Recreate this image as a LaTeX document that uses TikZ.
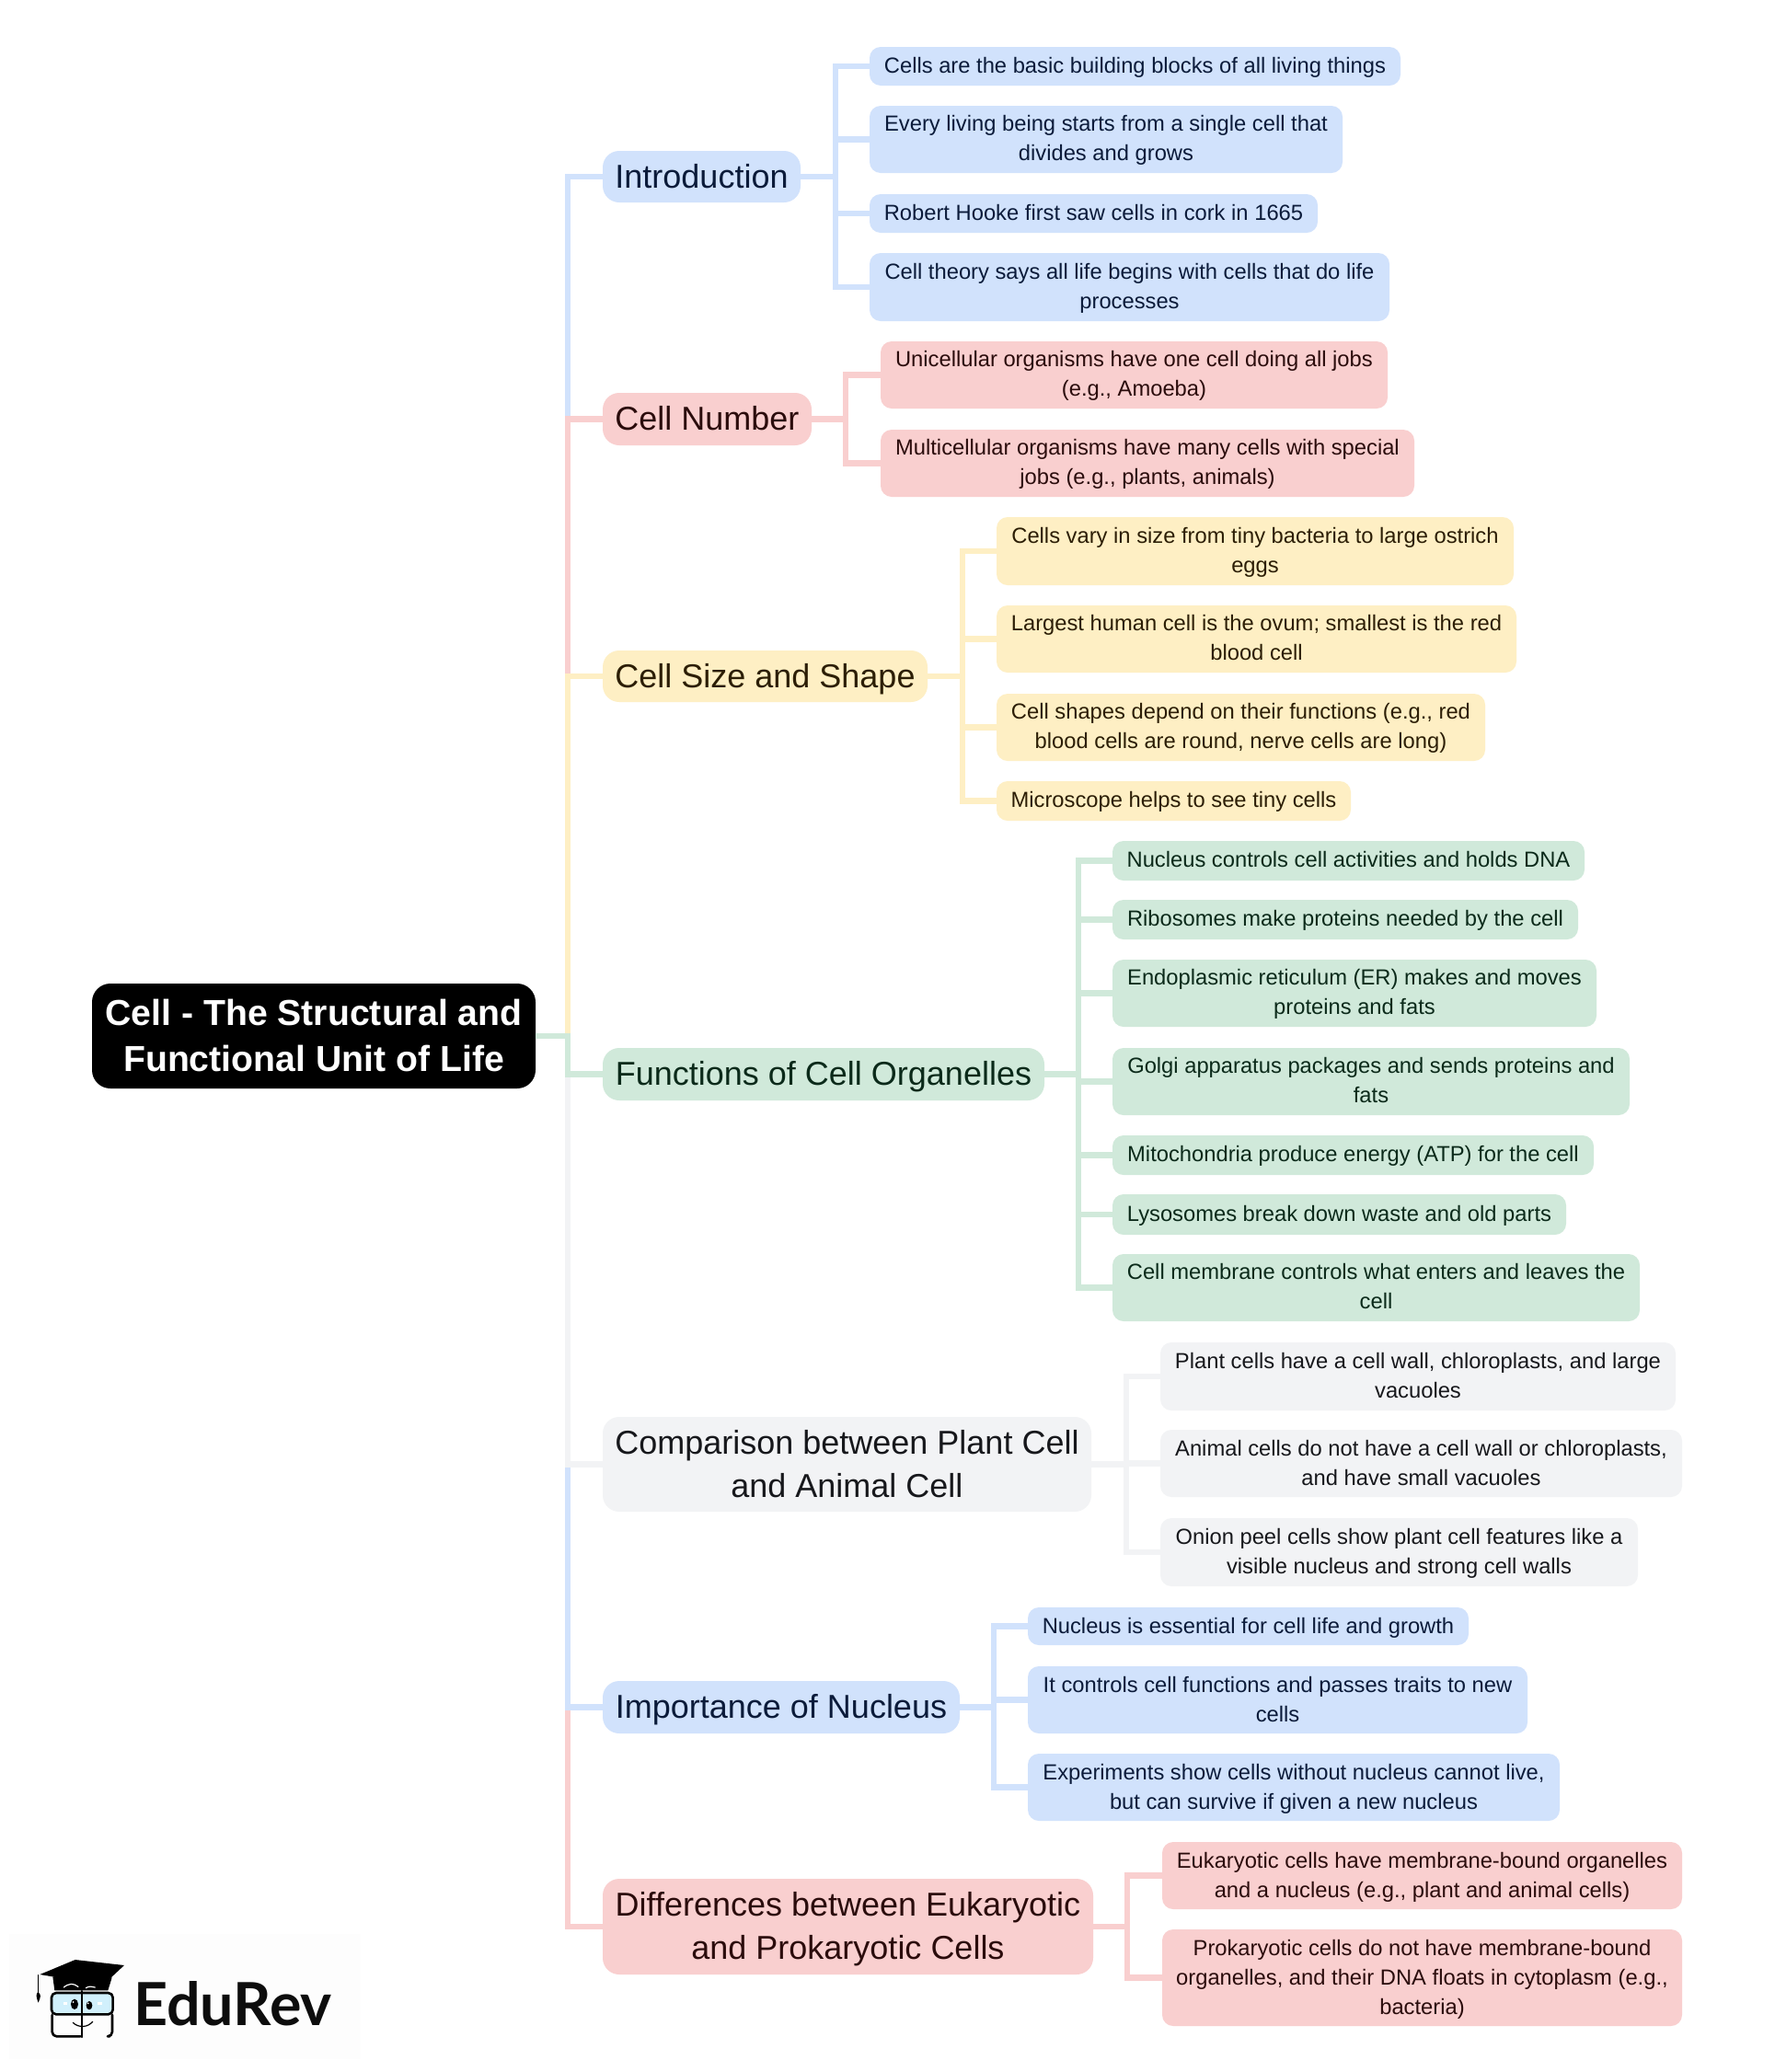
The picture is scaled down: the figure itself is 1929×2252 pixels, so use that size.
\documentclass[tikz,border=0pt]{standalone}
\usepackage{fontspec}
\setmainfont{Liberation Sans}
\newfontfamily\logofont{Lato}
\definecolor{cblue}{HTML}{D1E2FC}
\definecolor{cred}{HTML}{F9CFCF}
\definecolor{cyel}{HTML}{FEEFC4}
\definecolor{cgrn}{HTML}{D0E9DA}
\definecolor{cgry}{HTML}{F2F3F5}
\definecolor{tblue}{HTML}{0B1B3A}
\definecolor{tred}{HTML}{2B0C0C}
\definecolor{tyel}{HTML}{2C1E05}
\definecolor{tgrn}{HTML}{0B2A1A}
\definecolor{tgry}{HTML}{17181C}
\definecolor{logobg}{HTML}{FDFDFD}
\newlength{\txtdrop}
\tikzset{
 boxbase/.style={draw=none,inner sep=0pt,align=center},
 leafbox/.style={boxbase,rounded corners=12pt,font=\fontsize{23.75}{32}\selectfont\setlength{\txtdrop}{7.3pt}},
 branchbox/.style={boxbase,rounded corners=18pt,font=\fontsize{36}{47}\selectfont\setlength{\txtdrop}{8.9pt}},
 rootbox/.style={boxbase,fill=black,text=white,rounded corners=20pt,font=\bfseries\fontsize{39.2}{50}\selectfont\setlength{\txtdrop}{10pt}},
 pblue/.style={fill=cblue,text=tblue},
 pred/.style={fill=cred,text=tred},
 pyel/.style={fill=cyel,text=tyel},
 pgrn/.style={fill=cgrn,text=tgrn},
 pgry/.style={fill=cgry,text=tgry},
 link/.style={line width=6.5pt,draw=#1},
}
\newcommand{\bx}[7]{\node[#2,minimum width={#5-#3},minimum height={#6-#4}] (#1) at ({(#3+#5)/2},{(#4+#6)/2}) {\raisebox{-\txtdrop}[0pt][0pt]{\begin{tabular}{@{}c@{}}#7\end{tabular}}};}
\begin{document}
\begin{tikzpicture}[x=1pt,y=-1pt]
\useasboundingbox (0,0) rectangle (1929,2252);
\fill[white] (0,0) rectangle (1929,2252);
\bx{root}{rootbox}{100}{1069}{582}{1183}{Cell - The Structural and\\Functional Unit of Life}
\bx{b1}{branchbox,pblue}{655}{164}{870}{220}{Introduction}
\bx{b2}{branchbox,pred}{655}{427}{882}{484}{Cell Number}
\bx{b3}{branchbox,pyel}{655}{707}{1008}{763}{Cell Size and Shape}
\bx{b4}{branchbox,pgrn}{655}{1139}{1135}{1196}{Functions of Cell Organelles}
\bx{b5}{branchbox,pgry}{655}{1540}{1186}{1643}{Comparison between Plant Cell\\and Animal Cell}
\bx{b6}{branchbox,pblue}{655}{1827}{1043}{1884}{Importance of Nucleus}
\bx{b7}{branchbox,pred}{655}{2042}{1188}{2146}{Differences between Eukaryotic\\and Prokaryotic Cells}
\bx{l1}{leafbox,pblue}{945}{51}{1522}{93}{Cells are the basic building blocks of all living things}
\bx{l2}{leafbox,pblue}{945}{115}{1459}{188}{Every living being starts from a single cell that\\divides and grows}
\bx{l3}{leafbox,pblue}{945}{211}{1432}{253}{Robert Hooke first saw cells in cork in 1665}
\bx{l4}{leafbox,pblue}{945}{275}{1510}{349}{Cell theory says all life begins with cells that do life\\processes}
\bx{l5}{leafbox,pred}{957}{371}{1508}{444}{Unicellular organisms have one cell doing all jobs\\(e.g., Amoeba)}
\bx{l6}{leafbox,pred}{957}{467}{1537}{540}{Multicellular organisms have many cells with special\\jobs (e.g., plants, animals)}
\bx{l7}{leafbox,pyel}{1083}{562}{1645}{636}{Cells vary in size from tiny bacteria to large ostrich\\eggs}
\bx{l8}{leafbox,pyel}{1083}{658}{1648}{731}{Largest human cell is the ovum; smallest is the red\\blood cell}
\bx{l9}{leafbox,pyel}{1083}{754}{1614}{827}{Cell shapes depend on their functions (e.g., red\\blood cells are round, nerve cells are long)}
\bx{l10}{leafbox,pyel}{1083}{849}{1468}{892}{Microscope helps to see tiny cells}
\bx{l11}{leafbox,pgrn}{1209}{914}{1722}{957}{Nucleus controls cell activities and holds DNA}
\bx{l12}{leafbox,pgrn}{1209}{978}{1715}{1021}{Ribosomes make proteins needed by the cell}
\bx{l13}{leafbox,pgrn}{1209}{1043}{1735}{1116}{Endoplasmic reticulum (ER) makes and moves\\proteins and fats}
\bx{l14}{leafbox,pgrn}{1209}{1139}{1771}{1212}{Golgi apparatus packages and sends proteins and\\fats}
\bx{l15}{leafbox,pgrn}{1209}{1234}{1732}{1277}{Mitochondria produce energy (ATP) for the cell}
\bx{l16}{leafbox,pgrn}{1209}{1298}{1702}{1342}{Lysosomes break down waste and old parts}
\bx{l17}{leafbox,pgrn}{1209}{1363}{1782}{1436}{Cell membrane controls what enters and leaves the\\cell}
\bx{l18}{leafbox,pgry}{1261}{1459}{1821}{1533}{Plant cells have a cell wall, chloroplasts, and large\\vacuoles}
\bx{l19}{leafbox,pgry}{1261}{1554}{1828}{1627}{Animal cells do not have a cell wall or chloroplasts,\\and have small vacuoles}
\bx{l20}{leafbox,pgry}{1261}{1650}{1780}{1724}{Onion peel cells show plant cell features like a\\visible nucleus and strong cell walls}
\bx{l21}{leafbox,pblue}{1117}{1747}{1596}{1788}{Nucleus is essential for cell life and growth}
\bx{l22}{leafbox,pblue}{1117}{1811}{1660}{1884}{It controls cell functions and passes traits to new\\cells}
\bx{l23}{leafbox,pblue}{1117}{1906}{1695}{1979}{Experiments show cells without nucleus cannot live,\\but can survive if given a new nucleus}
\bx{l24}{leafbox,pred}{1263}{2002}{1828}{2075}{Eukaryotic cells have membrane-bound organelles\\and a nucleus (e.g., plant and animal cells)}
\bx{l25}{leafbox,pred}{1263}{2097}{1828}{2202}{Prokaryotic cells do not have membrane-bound\\organelles, and their DNA floats in cytoplasm (e.g.,\\bacteria)}
% trunk
\coordinate (t0) at (617,1126);
\foreach \b/\c in {b1/cblue,b2/cred,b3/cyel,b7/cred,b6/cblue,b5/cgry,b4/cgrn}{
  \draw[link=\c] (root.east) -- (t0) |- (\b.west);
}
% sub-branches
\coordinate (t1) at (908,192);
\foreach \l in {l1,l2,l3,l4}{\draw[link=cblue] (b1.east) -- (t1) |- (\l.west);}
\coordinate (t2) at (919,455.5);
\foreach \l in {l5,l6}{\draw[link=cred] (b2.east) -- (t2) |- (\l.west);}
\coordinate (t3) at (1046,735);
\foreach \l in {l7,l8,l9,l10}{\draw[link=cyel] (b3.east) -- (t3) |- (\l.west);}
\coordinate (t4) at (1172,1167.5);
\foreach \l in {l11,l12,l13,l14,l15,l16,l17}{\draw[link=cgrn] (b4.east) -- (t4) |- (\l.west);}
\coordinate (t5) at (1224,1591.5);
\foreach \l in {l18,l19,l20}{\draw[link=cgry] (b5.east) -- (t5) |- (\l.west);}
\coordinate (t6) at (1080,1855.5);
\foreach \l in {l21,l22,l23}{\draw[link=cblue] (b6.east) -- (t6) |- (\l.west);}
\coordinate (t7) at (1225,2094);
\foreach \l in {l24,l25}{\draw[link=cred] (b7.east) -- (t7) |- (\l.west);}
% logo
\fill[logobg] (10,2102) rectangle (392,2238);
\begin{scope}[shift={(0,2080)},x=0.3333pt,y=-0.3333pt,line cap=round,line join=round]
 \fill[black] (172,205) -- (178,250) -- (352,250) -- (365,208) -- cycle;
 \draw[white,line width=1.2pt] (208,240) .. controls (225,226) and (240,226) .. (255,238);
 \draw[white,line width=1.2pt] (280,242) .. controls (290,236) and (300,236) .. (310,240);
 \fill[black] (130,198) -- (245,150) -- (405,168) -- (330,238) -- (172,205) -- cycle;
 \draw[black,line width=1pt] (124,200) -- (124,258);
 \fill[black] (124,255) .. controls (116,262) and (118,272) .. (125,290) .. controls (132,272) and (136,264) .. (124,255) -- cycle;
 \draw[black,line width=2.6pt,fill=cyan!18!white,rounded corners=5pt] (168,258) rectangle (368,328);
 \draw[black,line width=2.6pt,rounded corners=5pt] (170,330) -- (170,400) -- (262,400);
 \draw[black,line width=2.6pt,rounded corners=5pt] (366,330) -- (366,400) -- (358,400);
 \draw[black,line width=2.2pt] (268,252) -- (268,402);
 \draw[black,line width=1.2pt] (238,355) .. controls (255,372) and (285,372) .. (302,352);
 \fill[black] (243,295) ellipse [x radius=12,y radius=17];
 \fill[black] (291,299) ellipse [x radius=10,y radius=14];
 \fill[white] (239,288) circle (3); \fill[white] (287,292) circle (3);
 \fill[white] (206,288) rectangle (220,298);
 \fill[white] (318,288) rectangle (332,298);
\end{scope}
\node[inner sep=0pt,anchor=base west,font=\logofont\bfseries\fontsize{64.6}{65}\selectfont,text=black!95] (logo) at (145,2201) {EduRev};
\end{tikzpicture}
\end{document}
